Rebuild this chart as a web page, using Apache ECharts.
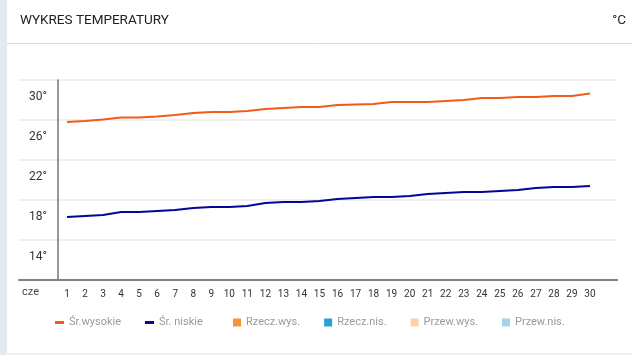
<!DOCTYPE html>
<html>
<head>
<meta charset="utf-8">
<script src="https://cdn.jsdelivr.net/npm/echarts@6/dist/echarts.min.js"></script>
<style>
html,body{margin:0;padding:0;background:#fff;}
#c{width:632px;height:355px;}
</style>
</head>
<body>
<div id="c"></div>
<script>
const days = ['1','2','3','4','5','6','7','8','9','10','11','12','13','14','15','16','17','18','19','20','21','22','23','24','25','26','27','28','29','30'];
const avgHigh = [27.8,27.9,28.05,28.25,28.25,28.35,28.5,28.7,28.8,28.8,28.9,29.1,29.2,29.3,29.3,29.5,29.55,29.6,29.8,29.8,29.8,29.9,30.0,30.2,30.2,30.3,30.3,30.4,30.4,30.65];
const avgLow = [18.3,18.4,18.5,18.8,18.8,18.9,19.0,19.2,19.3,19.3,19.4,19.7,19.8,19.8,19.9,20.1,20.2,20.3,20.3,20.4,20.6,20.7,20.8,20.8,20.9,21.0,21.2,21.3,21.3,21.4];
const actualHigh = [];
const actualLow = [];
const forecastHigh = [];
const forecastLow = [];
const yTickLabels = [14,18,22,26,30];
const monthLabel = 'cze';
const titleText = 'WYKRES TEMPERATURY';
const unitText = '°C';

const FONT = 'Roboto';
const chart = echarts.init(document.getElementById('c'), null, {renderer:'canvas'});
chart.setOption({
  backgroundColor:'#ffffff',
  animation:false,
  textStyle:{fontFamily:FONT},
  graphic:[
    {type:'rect', shape:{x:0,y:0,width:7,height:355}, style:{fill:'#e4eaf2'}, silent:true},
    {type:'rect', shape:{x:7,y:353,width:625,height:2}, style:{fill:'#eef1f6'}, silent:true},
    {type:'line', shape:{x1:7,y1:43.5,x2:632,y2:43.5}, style:{stroke:'#dcdcdc',lineWidth:1}, silent:true},
    {type:'text', left:20, top:14, style:{text:titleText, fill:'#222', font:'13.5px '+FONT}},
    {type:'text', right:6, top:14, style:{text:unitText, fill:'#222', font:'13.5px '+FONT}},
    {type:'text', left:22, top:287, style:{text:monthLabel, fill:'#444', font:'11px '+FONT}}
  ],
  legend:[
    {left:55, top:317, padding:0, itemWidth:9, itemHeight:3, itemGap:24, icon:'rect',
     textStyle:{color:'#9a9a9a', fontSize:11, fontFamily:FONT},
     data:['Śr.wysokie','Śr. niskie']},
    {left:233, top:317, padding:0, itemWidth:8, itemHeight:8, itemGap:24, icon:'rect',
     textStyle:{color:'#9a9a9a', fontSize:11, fontFamily:FONT},
     data:['Rzecz.wys.','Rzecz.nis.','Przew.wys.','Przew.nis.']}
  ],
  grid:[
    {left:19, right:15, top:80, bottom:75},
    {left:58, right:33, top:80, bottom:75}
  ],
  xAxis:[
    {gridIndex:0, type:'value', min:0, max:1, axisLine:{show:true, onZero:false, lineStyle:{color:'#808080', width:2}}, axisTick:{show:false}, axisLabel:{show:false}, splitLine:{show:false}},
    {gridIndex:1, type:'category', data:days, boundaryGap:true, axisLine:{show:false}, axisTick:{show:false},
     axisLabel:{color:'#333', fontSize:10, margin:9, interval:0, fontFamily:FONT}}
  ],
  yAxis:[
    {gridIndex:0, type:'value', min:12, max:32, interval:4, axisLine:{show:false}, axisTick:{show:false}, axisLabel:{show:false},
     splitLine:{show:true, lineStyle:{color:'#f0f0f0', width:2}}},
    {gridIndex:1, type:'value', min:12, max:32, interval:2,
     axisLine:{show:true, onZero:false, lineStyle:{color:'#777', width:1.5}}, axisTick:{show:false}, splitLine:{show:false},
     axisLabel:{color:'#333', fontSize:12, margin:11, verticalAlign:'bottom', lineHeight:6, fontFamily:FONT,
       formatter:function(v){ return yTickLabels.indexOf(v) >= 0 ? v + '°' : ''; }}}
  ],
  series:[
    {name:'Śr.wysokie', type:'line', xAxisIndex:1, yAxisIndex:1, data:avgHigh, symbol:'none', lineStyle:{color:'#f25a1c', width:2}, itemStyle:{color:'#f25a1c'}},
    {name:'Śr. niskie', type:'line', xAxisIndex:1, yAxisIndex:1, data:avgLow, symbol:'none', lineStyle:{color:'#050596', width:2}, itemStyle:{color:'#050596'}},
    {name:'Rzecz.wys.', type:'bar', xAxisIndex:1, yAxisIndex:1, data:actualHigh, itemStyle:{color:'#f7923a'}},
    {name:'Rzecz.nis.', type:'bar', xAxisIndex:1, yAxisIndex:1, data:actualLow, itemStyle:{color:'#27a0d9'}},
    {name:'Przew.wys.', type:'bar', xAxisIndex:1, yAxisIndex:1, data:forecastHigh, itemStyle:{color:'#fdd1a5'}},
    {name:'Przew.nis.', type:'bar', xAxisIndex:1, yAxisIndex:1, data:forecastLow, itemStyle:{color:'#9fd3ee'}}
  ]
});
</script>
</body>
</html>
